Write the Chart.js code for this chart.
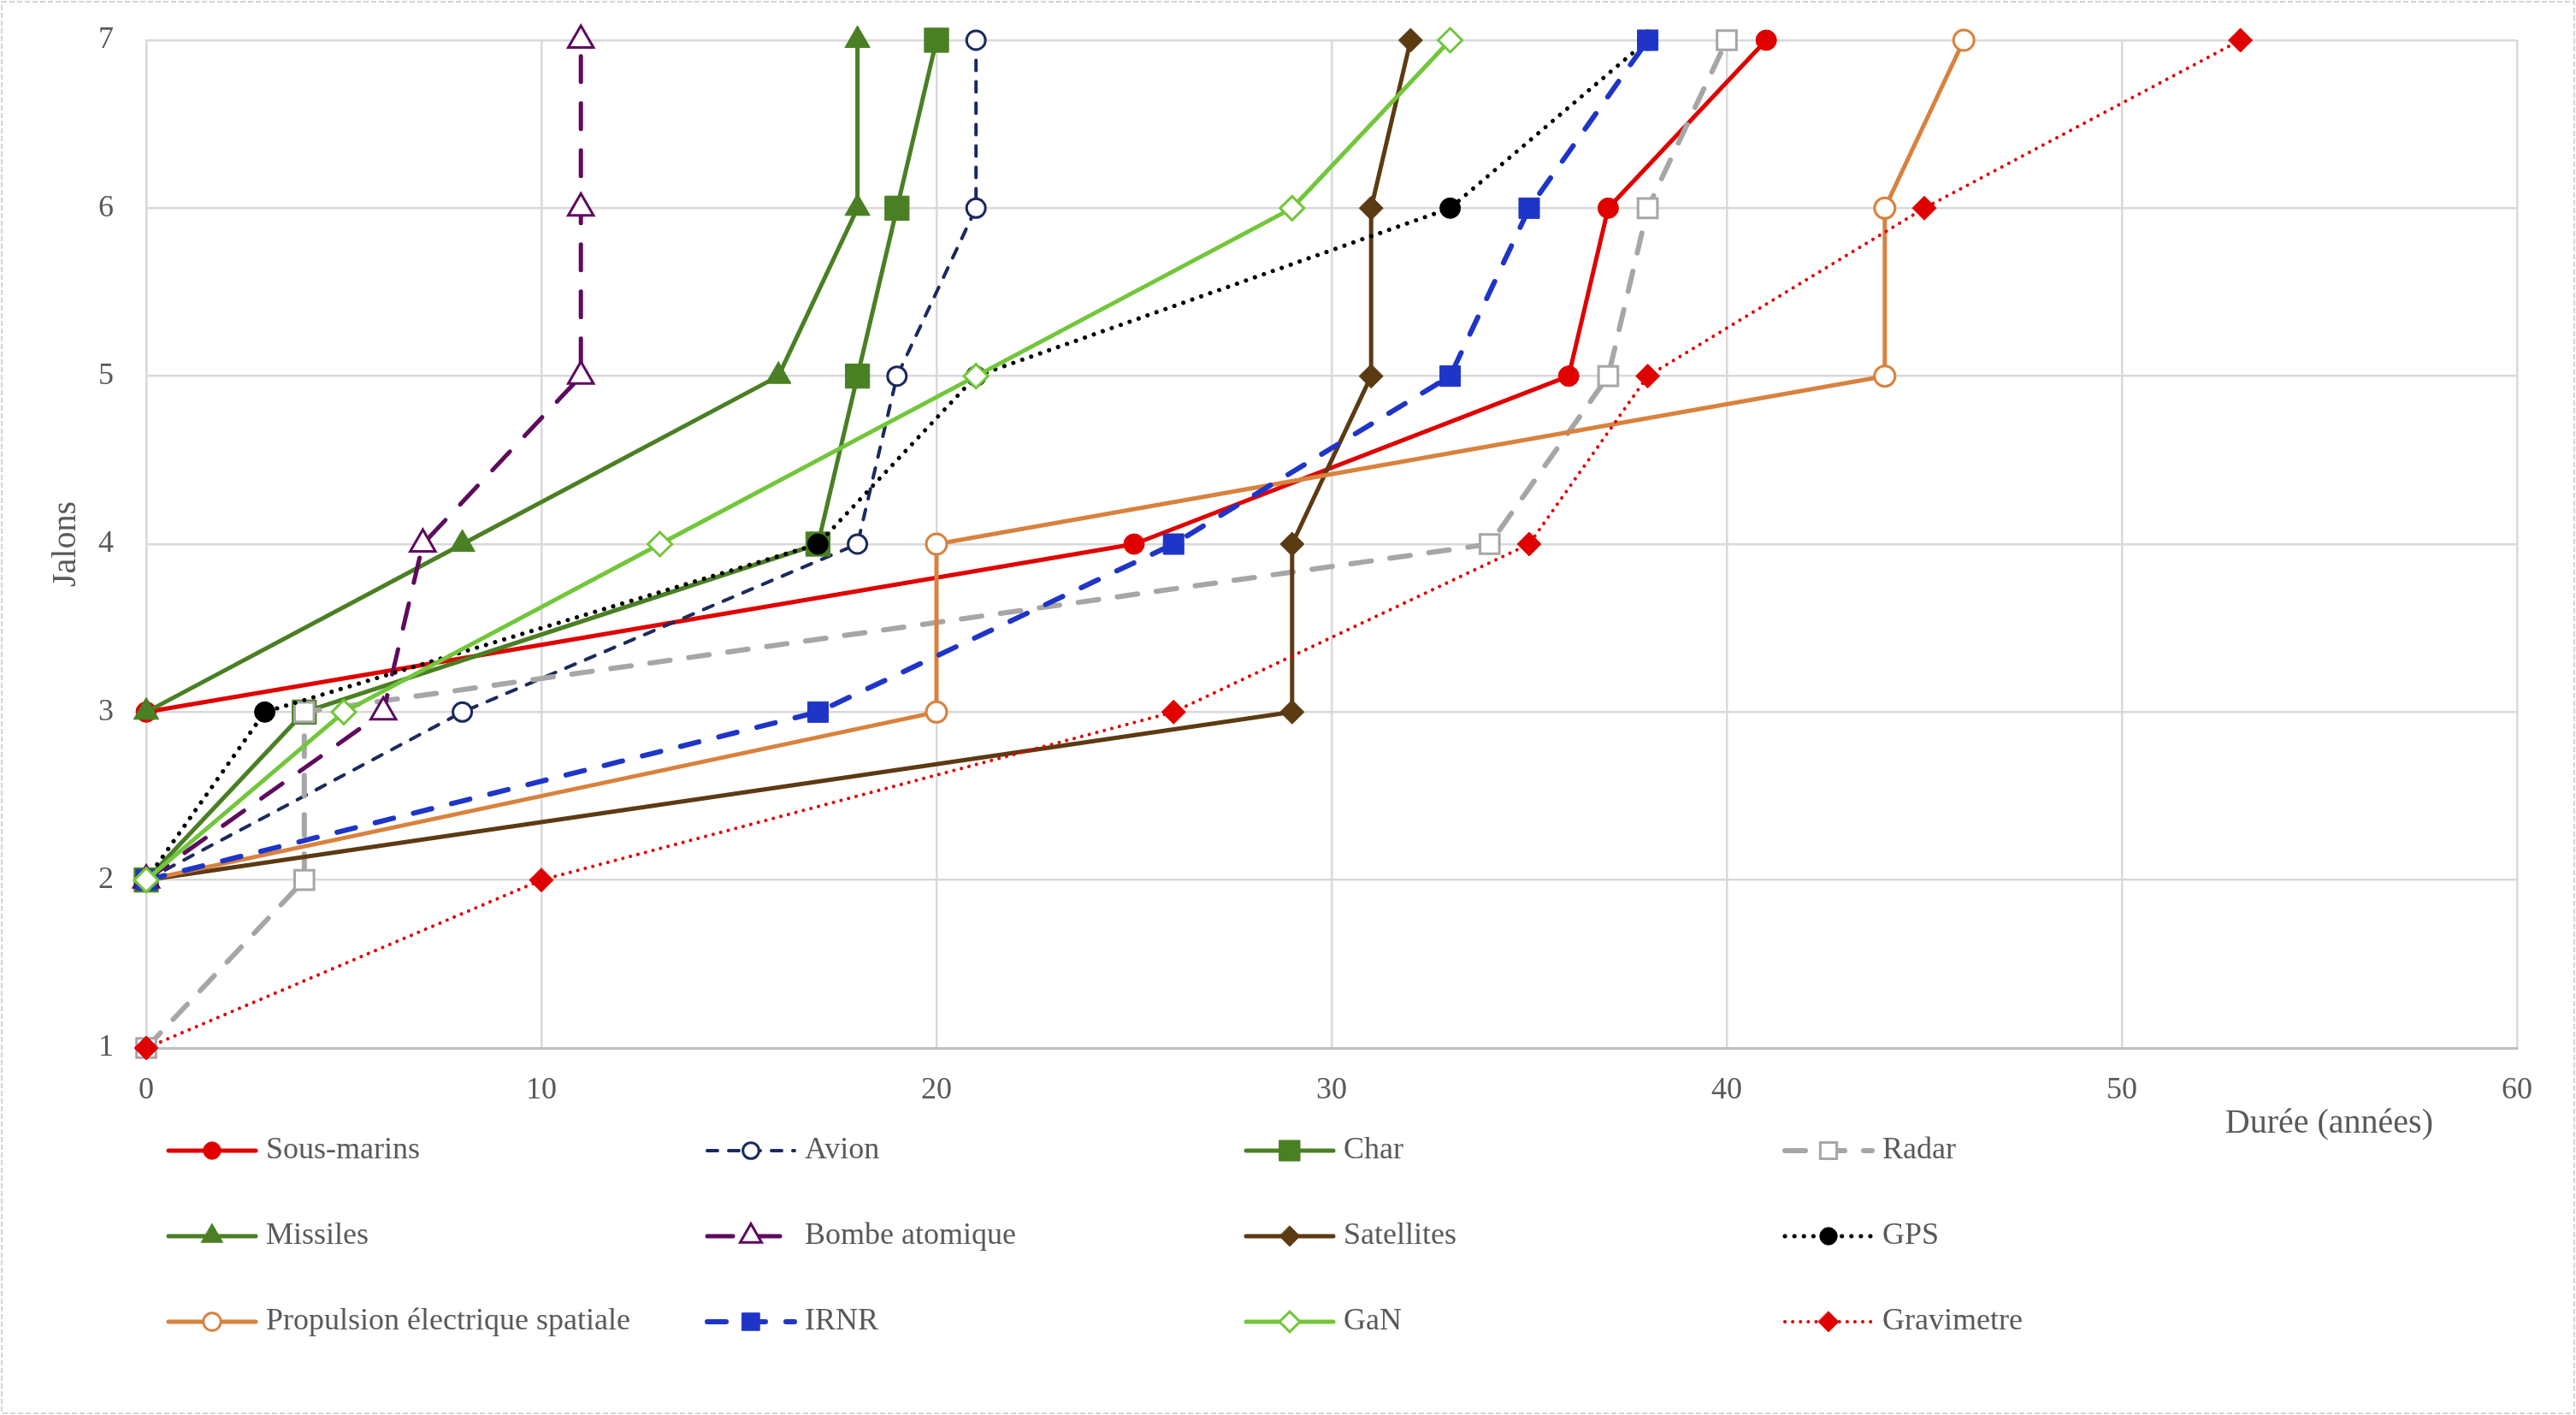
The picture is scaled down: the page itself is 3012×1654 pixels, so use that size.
<!DOCTYPE html>
<html>
<head>
<meta charset="utf-8">
<script src="https://cdn.jsdelivr.net/npm/chart.js@4.4.1/dist/chart.umd.min.js"></script>
<style>
  html, body { margin: 0; padding: 0; background: #ffffff; }
  #wrap { width: 3012px; height: 1654px; position: relative; }
</style>
</head>
<body>
<div id="wrap"><canvas id="chart"></canvas></div>
<script>
// ---------------- DATA ----------------
const xTickValues = [0, 10, 20, 30, 40, 50, 60];
const yTickValues = [1, 2, 3, 4, 5, 6, 7];
const xAxisTitle = 'Durée (années)';
const yAxisTitle = 'Jalons';

const seriesNames = ['Sous-marins', 'Avion', 'Char', 'Radar', 'Missiles', 'Bombe atomique',
  'Satellites', 'GPS', 'Propulsion électrique spatiale', 'IRNR', 'GaN', 'Gravimetre'];

const sousMarinsDuree  = [0, 25, 36, 37, 41];
const sousMarinsJalons = [3, 4, 5, 6, 7];
const avionDuree  = [0, 8, 18, 19, 21, 21];
const avionJalons = [2, 3, 4, 5, 6, 7];
const charDuree  = [0, 4, 17, 18, 19, 20];
const charJalons = [2, 3, 4, 5, 6, 7];
const radarDuree  = [0, 4, 4, 34, 37, 38, 40];
const radarJalons = [1, 2, 3, 4, 5, 6, 7];
const missilesDuree  = [0, 8, 16, 18, 18];
const missilesJalons = [3, 4, 5, 6, 7];
const bombeDuree  = [0, 6, 7, 11, 11, 11];
const bombeJalons = [2, 3, 4, 5, 6, 7];
const satellitesDuree  = [0, 29, 29, 31, 31, 32];
const satellitesJalons = [2, 3, 4, 5, 6, 7];
const gpsDuree  = [0, 3, 17, 21, 33, 38];
const gpsJalons = [2, 3, 4, 5, 6, 7];
const propulsionDuree  = [0, 20, 20, 44, 44, 46];
const propulsionJalons = [2, 3, 4, 5, 6, 7];
const irnrDuree  = [0, 17, 26, 33, 35, 38];
const irnrJalons = [2, 3, 4, 5, 6, 7];
const ganDuree  = [0, 5, 13, 21, 29, 33];
const ganJalons = [2, 3, 4, 5, 6, 7];
const gravimetreDuree  = [0, 10, 26, 35, 38, 45, 53];
const gravimetreJalons = [1, 2, 3, 4, 5, 6, 7];

const seriesDuree = [sousMarinsDuree, avionDuree, charDuree, radarDuree, missilesDuree, bombeDuree,
  satellitesDuree, gpsDuree, propulsionDuree, irnrDuree, ganDuree, gravimetreDuree];
const seriesJalons = [sousMarinsJalons, avionJalons, charJalons, radarJalons, missilesJalons, bombeJalons,
  satellitesJalons, gpsJalons, propulsionJalons, irnrJalons, ganJalons, gravimetreJalons];

// ---------------- STYLES ----------------
const seriesStyles = [
  { color: '#E00000', dash: [],       width: 5, point: 'circle',   r: 12, open: false },
  { color: '#1B2A5E', dash: [12, 13], width: 4, point: 'circle',   r: 11, open: true  },
  { color: '#4A7F23', dash: [],       width: 5, point: 'rect',     r: 20, open: false },
  { color: '#A6A6A6', dash: [24, 22], width: 6, point: 'rect',     r: 16, open: true  },
  { color: '#4A7F23', dash: [],       width: 5, point: 'triangle', r: 17, open: false },
  { color: '#5E0A5E', dash: [30, 25], width: 5, point: 'triangle', r: 17, open: true  },
  { color: '#5C3A12', dash: [],       width: 5, point: 'rectRot',  r: 14, open: false },
  { color: '#000000', dash: [0.1, 11],width: 5, point: 'circle',   r: 12, open: false },
  { color: '#D8823E', dash: [],       width: 5, point: 'circle',   r: 12, open: true  },
  { color: '#1F35C8', dash: [22, 24], width: 6, point: 'rect',     r: 17, open: false },
  { color: '#72C63A', dash: [],       width: 5, point: 'rectRot',  r: 14, open: true  },
  { color: '#E00000', dash: [0.1, 9], width: 4, point: 'rectRot',  r: 14, open: false }
];

const FONT = '"Liberation Serif", "DejaVu Serif", serif';
const TEXT_COLOR = '#595959';

const datasets = seriesNames.map((name, i) => {
  const s = seriesStyles[i];
  return {
    label: name,
    data: seriesDuree[i].map((d, k) => ({ x: d, y: seriesJalons[i][k] })),
    showLine: true,
    borderColor: s.color,
    borderWidth: s.width,
    borderDash: s.dash,
    borderCapStyle: 'round',
    borderJoinStyle: 'round',
    tension: 0,
    pointStyle: s.point,
    pointRadius: s.r,
    pointHoverRadius: s.r,
    pointBackgroundColor: s.open ? '#FFFFFF' : s.color,
    pointBorderColor: s.color,
    pointBorderWidth: s.open ? 3 : 1,
    clip: false,
    order: seriesNames.length - i
  };
});

// ---------------- PLUGINS ----------------
function drawMarker(ctx, style, x, y, radius, fill, stroke, lw) {
  ctx.save();
  ctx.beginPath();
  let rad = 0;
  if (style === 'circle') {
    ctx.arc(x, y, radius, 0, Math.PI * 2);
  } else if (style === 'rect') {
    const s = Math.SQRT1_2 * radius;
    ctx.rect(x - s, y - s, 2 * s, 2 * s);
  } else if (style === 'rectRot') {
    ctx.moveTo(x, y - radius);
    ctx.lineTo(x + radius, y);
    ctx.lineTo(x, y + radius);
    ctx.lineTo(x - radius, y);
    ctx.closePath();
  } else if (style === 'triangle') {
    const a = 2 * Math.PI / 3;
    ctx.moveTo(x + Math.sin(rad) * radius, y - Math.cos(rad) * radius);
    rad += a;
    ctx.lineTo(x + Math.sin(rad) * radius, y - Math.cos(rad) * radius);
    rad += a;
    ctx.lineTo(x + Math.sin(rad) * radius, y - Math.cos(rad) * radius);
    ctx.closePath();
  }
  ctx.fillStyle = fill;
  ctx.fill();
  ctx.lineWidth = lw;
  ctx.strokeStyle = stroke;
  ctx.setLineDash([]);
  ctx.stroke();
  ctx.restore();
}

const framePlugin = {
  id: 'frame',
  beforeDraw(chart) {
    const ctx = chart.ctx;
    ctx.save();
    ctx.fillStyle = '#FFFFFF';
    ctx.fillRect(0, 0, chart.width, chart.height);
    ctx.strokeStyle = '#D4D4D4';
    ctx.lineWidth = 2;
    ctx.setLineDash([6, 3]);
    ctx.strokeRect(2, 2, chart.width - 4, chart.height - 4);
    ctx.restore();
  }
};

const gridLegendPlugin = {
  id: 'gridLegend',
  afterDraw(chart) {
    const ctx = chart.ctx;
    const area = chart.chartArea;
    const startX = 193, colW = 630, startY = 1345, rowH = 100, sampleW = 110, textOff = 118;
    chart.data.datasets.forEach((ds, i) => {
      const col = i % 4, row = Math.floor(i / 4);
      const x0 = startX + col * colW;
      const y = startY + row * rowH;
      ctx.save();
      ctx.strokeStyle = ds.borderColor;
      ctx.lineWidth = ds.borderWidth;
      ctx.lineCap = ds.borderCapStyle;
      ctx.setLineDash(ds.borderDash || []);
      ctx.beginPath();
      ctx.moveTo(x0 + 4, y);
      ctx.lineTo(x0 + sampleW - 4, y);
      ctx.stroke();
      drawMarker(ctx, ds.pointStyle, x0 + sampleW / 2, y, ds.pointRadius * 0.85,
        ds.pointBackgroundColor, ds.pointBorderColor, ds.pointBorderWidth);
      ctx.fillStyle = TEXT_COLOR;
      ctx.font = '36px ' + FONT;
      ctx.textBaseline = 'middle';
      ctx.textAlign = 'left';
      ctx.fillText(ds.label, x0 + textOff, y);
      ctx.restore();
    });
    // x axis title, right-aligned under the axis end
    ctx.save();
    ctx.fillStyle = TEXT_COLOR;
    ctx.font = '40px ' + FONT;
    ctx.textBaseline = 'middle';
    ctx.textAlign = 'right';
    ctx.fillText(xAxisTitle, area.right - 98, area.bottom + 88);
    ctx.restore();
  }
};

// ---------------- CHART ----------------
Chart.defaults.font.family = FONT;
Chart.defaults.color = TEXT_COLOR;

new Chart(document.getElementById('chart'), {
  type: 'scatter',
  data: { datasets },
  options: {
    responsive: true,
    maintainAspectRatio: false,
    animation: false,
    devicePixelRatio: 1,
    layout: { padding: { top: 47, right: 69, bottom: 0, left: 0 } },
    plugins: {
      legend: { display: false },
      tooltip: { enabled: false },
      title: { display: false }
    },
    scales: {
      x: {
        type: 'linear',
        min: xTickValues[0],
        max: xTickValues[xTickValues.length - 1],
        afterBuildTicks: (scale) => { scale.ticks = xTickValues.map(v => ({ value: v })); },
        afterFit: (scale) => { scale.height = 429; },
        ticks: { font: { size: 36 }, color: TEXT_COLOR, padding: 28, maxRotation: 0 },
        grid: { color: '#D9D9D9', lineWidth: 2.5, drawTicks: false },
        border: { color: '#BFBFBF', width: 3 },
        title: { display: false }
      },
      y: {
        type: 'linear',
        min: yTickValues[0],
        max: yTickValues[yTickValues.length - 1],
        afterBuildTicks: (scale) => { scale.ticks = yTickValues.map(v => ({ value: v })); },
        afterFit: (scale) => { scale.width = 171; scale.paddingTop = 0; scale.paddingBottom = 0; },
        ticks: { font: { size: 36 }, color: TEXT_COLOR, padding: 38 },
        grid: { color: '#D9D9D9', lineWidth: 2.5, drawTicks: false },
        border: { color: '#D9D9D9', width: 2.5 },
        title: { display: true, text: yAxisTitle, font: { size: 40 }, color: TEXT_COLOR, padding: { top: 53, bottom: 0 } }
      }
    }
  },
  plugins: [framePlugin, gridLegendPlugin]
});
</script>
</body>
</html>
